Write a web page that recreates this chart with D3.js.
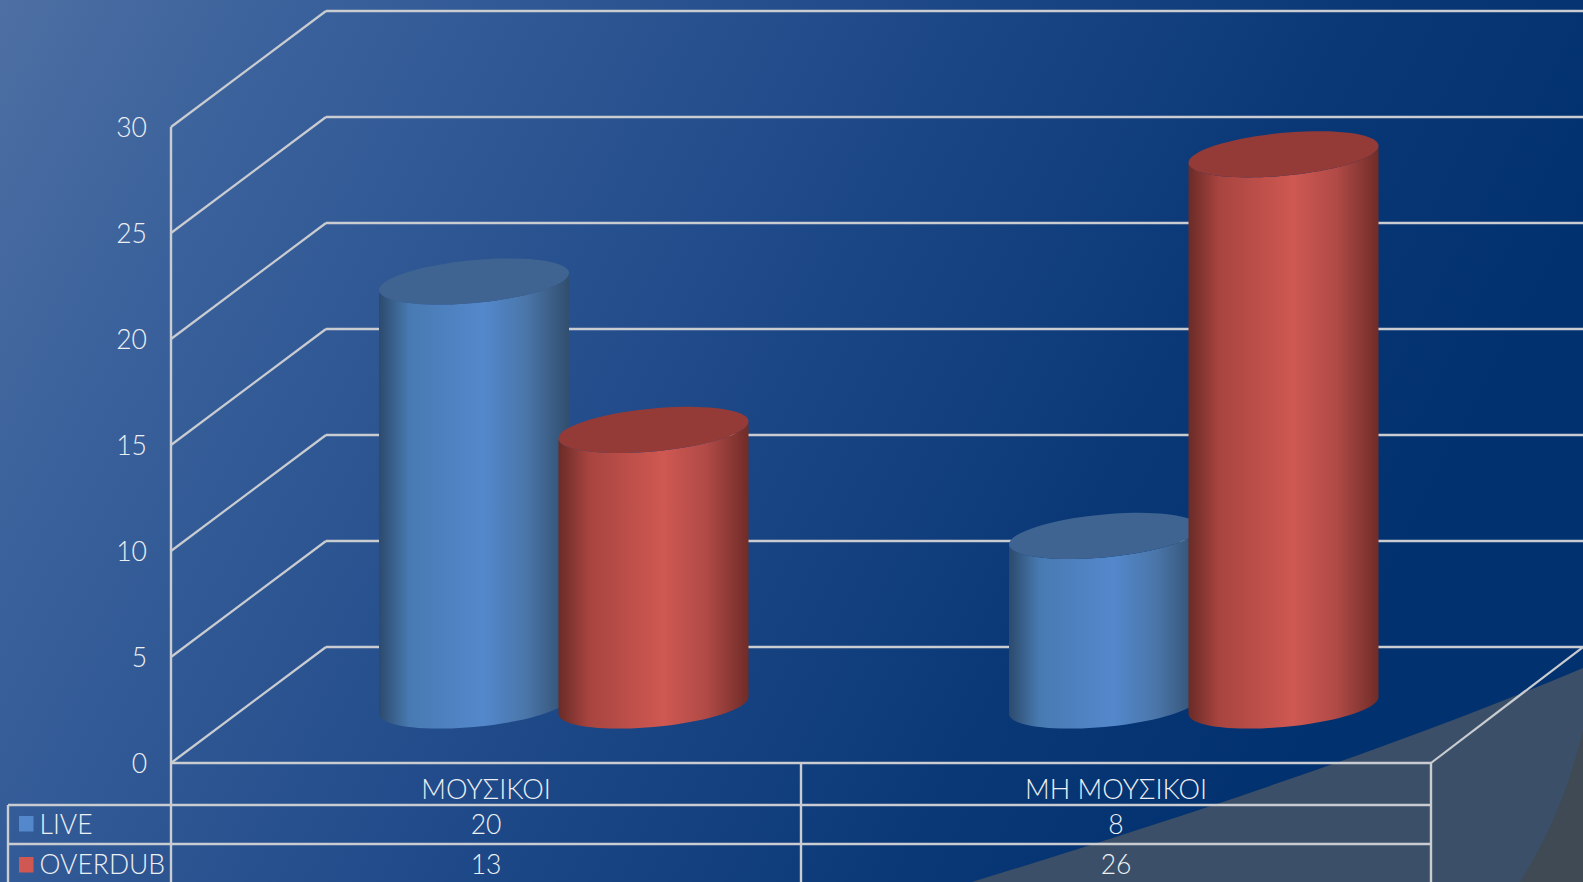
<!DOCTYPE html>
<html><head><meta charset="utf-8">
<script src="https://cdnjs.cloudflare.com/ajax/libs/d3/7.8.5/d3.min.js"></script>
<style>html,body{margin:0;padding:0;background:#0a3472;overflow:hidden}svg{display:block}
text{font-family:Lato,"Open Sans",sans-serif;font-weight:300;fill:#eceff3;font-size:26.5px}
text.cat{font-size:27.2px}</style>
</head><body><svg id="c" width="1583" height="882"></svg>
<script>
const categories = ["ΜΟΥΣΙΚΟΙ", "ΜΗ ΜΟΥΣΙΚΟΙ"];
const seriesNames = ["LIVE", "OVERDUB"];
const live = [20, 8];
const overdub = [13, 26];
const yTicks = [0, 5, 10, 15, 20, 25, 30];
const seriesColors = {LIVE:["#2c4a6c","#487ab2","#5388cc","#4a75a8","#314e6e","#3f6491"],
                      OVERDUB:["#6a2b27","#a8443f","#cf5852","#b04a46","#702c28","#943b38"]};
const W=1583,H=882;
const svg=d3.select("#c");
const defs=svg.append("defs");
const bg=defs.append("linearGradient").attr("id","bg").attr("gradientUnits","userSpaceOnUse")
 .attr("x1",0).attr("y1",0).attr("x2",1330).attr("y2",700);
[[0,"#4d6fa3"],[0.18,"#3a619b"],[0.5,"#214b8a"],[0.8,"#0a3876"],[1,"#02316f"]].forEach(s=>bg.append("stop").attr("offset",s[0]).attr("stop-color",s[1]));
svg.append("rect").attr("width",W).attr("height",H).attr("fill","url(#bg)");
// decorative corner shapes
svg.append("path").attr("d",`M972,882 C1190,815 1400,745 1583,668 L1583,882 Z`).attr("fill","#3b4f68");
svg.append("path").attr("d",`M1520,882 C1550,835 1570,785 1583,730 L1583,882 Z`).attr("fill","#3f4a55");

// scales
const yFront=d3.scaleLinear().domain([0,30]).range([763,127]);
const yBack=d3.scaleLinear().domain([0,30]).range([647,11]);
const xFrontL=171, xBackL=326, xFrontR=1431;
const xCat=d3.scaleBand().domain(categories).range([xFrontL,xFrontR]);
const barW=190;
const xSeries=d3.scaleOrdinal().domain(seriesNames).range([-12,167.5]);
const heightScale=d3.scaleLinear().domain([0,30]).range([0,636]);
const baseY=705.5;
const grid="#c9ccd0";

const g=svg.append("g");
// grid
g.selectAll(".gb").data(yTicks).join("line").attr("x1",xBackL).attr("x2",W)
 .attr("y1",d=>yBack(d)).attr("y2",d=>yBack(d)).attr("stroke",grid).attr("stroke-width",2.4);
g.selectAll(".gs").data(yTicks).join("line").attr("x1",xFrontL).attr("x2",xBackL)
 .attr("y1",d=>yFront(d)).attr("y2",d=>yBack(d)).attr("stroke",grid).attr("stroke-width",2.2);
g.append("line").attr("x1",xFrontR).attr("y1",yFront(0)).attr("x2",W).attr("y2",yBack(0)).attr("stroke",grid).attr("stroke-width",2.2);

// cylinders
seriesNames.forEach(s=>{
 const c=seriesColors[s];
 const lg=defs.append("linearGradient").attr("id","g"+s);
 [[0,c[0]],[0.16,c[1]],[0.55,c[2]],[0.78,c[3]],[1,c[4]]].forEach(t=>lg.append("stop").attr("offset",t[0]).attr("stop-color",t[1]));
});
const a=barW/2,shear=8.5,b=21.5;
const ell=(cx,cy,t)=>[cx+a*Math.cos(t),cy-shear*Math.cos(t)+b*Math.sin(t)];
function body(cx,top){
 const p=[];
 p.push(ell(cx,top,Math.PI));
 d3.range(0,41).forEach(i=>{p.push(ell(cx,baseY,Math.PI-i/40*Math.PI));});
 p.push(ell(cx,top,0));
 d3.range(0,41).forEach(i=>{p.push(ell(cx,top,i/40*Math.PI));});
 return d3.line()(p)+"Z";
}
function cap(cx,top){return d3.line()(d3.range(0,81).map(i=>ell(cx,top,i/80*2*Math.PI)))+"Z";}
const bars=categories.flatMap((cat,i)=>[{cat,s:"LIVE",v:live[i]},{cat,s:"OVERDUB",v:overdub[i]}]);
const cx=d=>xCat(d.cat)+xCat.bandwidth()/2+xSeries(d.s);
const bar=g.selectAll(".bar").data(bars).join("g");
bar.append("path").attr("d",d=>body(cx(d),baseY-heightScale(d.v))).attr("fill",d=>`url(#g${d.s})`);
bar.append("path").attr("d",d=>cap(cx(d),baseY-heightScale(d.v))).attr("fill",d=>seriesColors[d.s][5]);

// y axis
const axis=svg.append("g").attr("transform",`translate(${xFrontL},1)`)
 .call(d3.axisLeft(yFront).tickValues(yTicks).tickSize(0).tickPadding(24));
axis.select(".domain").remove();
axis.selectAll("text").attr("font-size",null).attr("font-family",null).attr("fill",null);

// data table
const rows=[763,805,844,882];
const tl=svg.append("g");
const line=(x1,y1,x2,y2)=>tl.append("line").attr("x1",x1).attr("y1",y1).attr("x2",x2).attr("y2",y2).attr("stroke",grid).attr("stroke-width",2.4);
line(xFrontL,127,xFrontL,H);
line(xFrontL,rows[0],xFrontR,rows[0]);
line(8,rows[1],xFrontR,rows[1]);
line(8,rows[2],xFrontR,rows[2]);
line(8,rows[1],8,H);
categories.forEach(c=>line(xCat(c)+xCat.bandwidth(),rows[0],xCat(c)+xCat.bandwidth(),H));
const mid=c=>xCat(c)+xCat.bandwidth()/2;
const t=(x,y,s,anchor)=>tl.append("text").attr("x",x).attr("y",y).attr("text-anchor",anchor||"middle").attr("dominant-baseline","central").text(s);
categories.forEach((c,i)=>{
 t(mid(c),788.5,c).attr("class","cat");
 t(mid(c),823.5,live[i]);
 t(mid(c),864,overdub[i]);
});
[[seriesNames[0],823.5,816],[seriesNames[1],864,857]].forEach(r=>{
 tl.append("rect").attr("x",19).attr("y",r[2]).attr("width",14.5).attr("height",15.5).attr("fill",seriesColors[r[0]][2]);
 t(39.5,r[1],r[0],"start");
});
</script></body></html>
